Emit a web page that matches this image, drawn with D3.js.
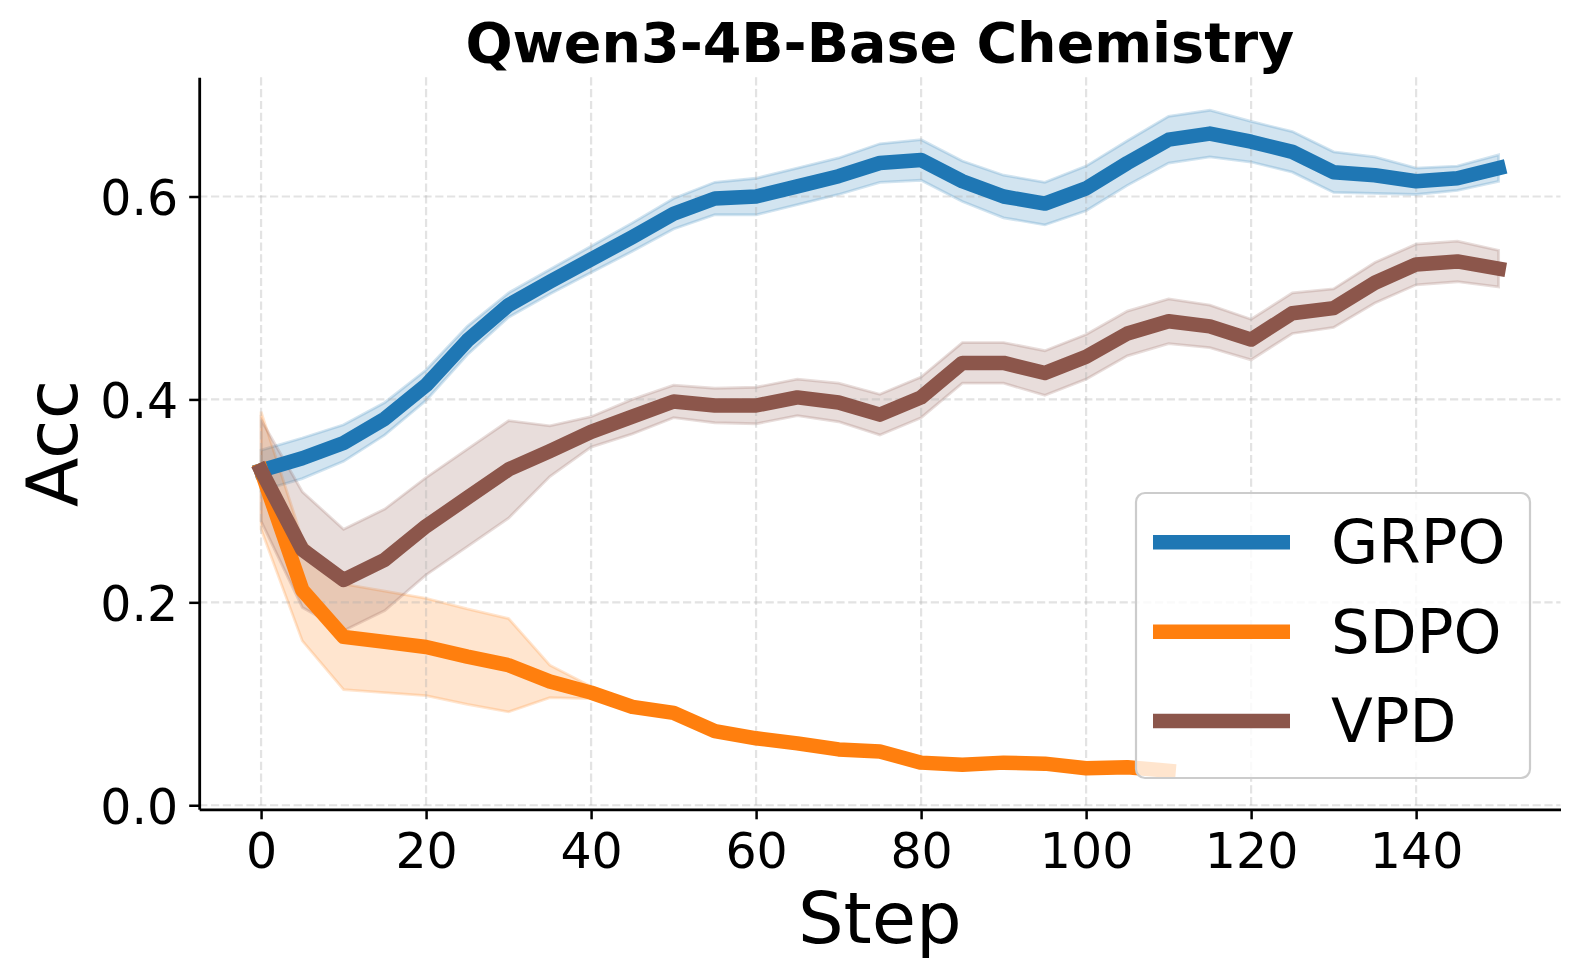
<!DOCTYPE html>
<html>
<head>
<meta charset="utf-8">
<script src="https://cdn.jsdelivr.net/npm/d3@7"></script>
<style>
  html, body { margin: 0; padding: 0; background: #fff; }
  svg { display: block; font-family: "DejaVu Sans", sans-serif; }
</style>
</head>
<body>
<div id="chart"></div>
<script>
// --- data ---
const steps = d3.range(0, 151, 5);
const sdpoSteps = d3.range(0, 111, 5);

const grpoMean = [0.330, 0.342, 0.357, 0.381, 0.414, 0.458, 0.493, 0.516, 0.538, 0.560,
    0.583, 0.598, 0.600, 0.610, 0.620, 0.633, 0.636, 0.615, 0.600, 0.593,
    0.608, 0.633, 0.656, 0.662, 0.654, 0.644, 0.624, 0.621, 0.615, 0.618, 0.628];
const grpoStd = [0.020, 0.020, 0.018, 0.016, 0.015, 0.014, 0.012, 0.012, 0.013, 0.014,
    0.015, 0.016, 0.018, 0.018, 0.018, 0.019, 0.020, 0.020, 0.021, 0.021,
    0.022, 0.022, 0.023, 0.023, 0.020, 0.020, 0.020, 0.018, 0.013, 0.012, 0.013];

const sdpoMean = [0.330, 0.212, 0.166, 0.161, 0.156, 0.1465, 0.138, 0.122, 0.111, 0.097,
    0.091, 0.073, 0.066, 0.061, 0.055, 0.053, 0.042, 0.040, 0.042, 0.041,
    0.0365, 0.0375, 0.034];
const sdpoStd = [0.058, 0.050, 0.052, 0.050, 0.048, 0.047, 0.046, 0.016, 0.006, 0.004,
    0.003, 0.003, 0.003, 0.003, 0.003, 0.003, 0.003, 0.003, 0.003, 0.003,
    0.003, 0.003, 0.003];

const vpdMean = [0.330, 0.252, 0.222, 0.242, 0.275, 0.303, 0.331, 0.349, 0.368, 0.383,
    0.398, 0.394, 0.394, 0.402, 0.397, 0.385, 0.402, 0.436, 0.436, 0.426,
    0.442, 0.465, 0.477, 0.472, 0.459, 0.485, 0.490, 0.515, 0.533, 0.536, 0.529];
const vpdStd = [0.050, 0.057, 0.050, 0.050, 0.048, 0.048, 0.048, 0.025, 0.015, 0.017,
    0.016, 0.017, 0.018, 0.018, 0.019, 0.020, 0.020, 0.020, 0.020, 0.022,
    0.022, 0.022, 0.022, 0.021, 0.020, 0.020, 0.019, 0.020, 0.020, 0.020, 0.018];

const seriesNames = ["GRPO", "SDPO", "VPD"];
const seriesColors = ["#1f77b4", "#ff7f0e", "#8c564b"];

const xTicks = [0, 20, 40, 60, 80, 100, 120, 140];
const yTicks = [0.0, 0.2, 0.4, 0.6];

const title = "Qwen3-4B-Base Chemistry";
const xLabel = "Step";
const yLabel = "Acc";

// --- layout ---
const W = 1580, H = 978;
const margin = { top: 77.3, right: 19.5, bottom: 168.7, left: 199.2 };
const width = W - margin.left - margin.right;
const height = H - margin.top - margin.bottom;

const svg = d3.select("#chart").append("svg")
    .attr("width", W).attr("height", H)
    .attr("viewBox", `0 0 ${W} ${H}`);

const g = svg.append("g").attr("transform", `translate(${margin.left},${margin.top})`);

const x = d3.scaleLinear().domain([-7.5, 157.5]).range([0, width]);
const y = d3.scaleLinear().domain([-0.004, 0.7175]).range([height, 0]);

const series = [
    { name: seriesNames[0], color: seriesColors[0], steps: steps, mean: grpoMean, std: grpoStd },
    { name: seriesNames[1], color: seriesColors[1], steps: sdpoSteps, mean: sdpoMean, std: sdpoStd },
    { name: seriesNames[2], color: seriesColors[2], steps: steps, mean: vpdMean, std: vpdStd }
].map(s => ({ ...s, points: s.steps.map((st, i) => ({ step: st, m: s.mean[i], sd: s.std[i] })) }));

// --- bands (under grid and lines) ---
const area = d3.area()
    .x(d => x(d.step))
    .y0(d => y(d.m - d.sd))
    .y1(d => y(d.m + d.sd));

g.append("g").selectAll("path")
    .data(series)
    .join("path")
    .attr("d", d => area(d.points))
    .attr("fill", d => d.color)
    .attr("fill-opacity", 0.2)
    .attr("stroke", d => d.color)
    .attr("stroke-opacity", 0.2)
    .attr("stroke-width", 2.8);

// --- grid ---
const grid = g.append("g")
    .attr("stroke", "#b0b0b0")
    .attr("stroke-opacity", 0.35)
    .attr("stroke-width", 2.2)
    .attr("stroke-dasharray", "8.2,3.6");

grid.selectAll(".gx").data(xTicks).join("line")
    .attr("x1", d => x(d)).attr("x2", d => x(d))
    .attr("y1", 0).attr("y2", height);
grid.selectAll(".gy").data(yTicks).join("line")
    .attr("x1", 0).attr("x2", width)
    .attr("y1", d => y(d)).attr("y2", d => y(d));

// --- mean lines ---
const line = d3.line()
    .x(d => x(d.step))
    .y(d => y(d.m));

g.append("g").selectAll("path")
    .data(series)
    .join("path")
    .attr("d", d => line(d.points))
    .attr("fill", "none")
    .attr("stroke", d => d.color)
    .attr("stroke-width", 14.5)
    .attr("stroke-linejoin", "round")
    .attr("stroke-linecap", "square");

// --- axes ---
const xAxis = g.append("g")
    .attr("transform", `translate(0,${height})`)
    .call(d3.axisBottom(x).tickValues(xTicks).tickSize(10).tickPadding(14).tickSizeOuter(0));
const yAxis = g.append("g")
    .call(d3.axisLeft(y).tickValues(yTicks).tickFormat(d3.format(".1f")).tickSize(10).tickPadding(11).tickSizeOuter(0));

[xAxis, yAxis].forEach(a => {
    a.select(".domain").attr("stroke", "#000").attr("stroke-width", 2.8);
    a.selectAll(".tick line").attr("stroke", "#000").attr("stroke-width", 2.5);
    a.selectAll(".tick text")
        .attr("fill", "#000")
        .style("font-family", "DejaVu Sans")
        .style("font-size", "49px");
});
yAxis.selectAll(".tick text").attr("dy", "0.37em");

// --- labels ---
svg.append("text")
    .attr("x", margin.left + width / 2)
    .attr("y", 62)
    .attr("text-anchor", "middle")
    .style("font-size", "55.5px")
    .style("font-weight", "bold")
    .text(title);

svg.append("text")
    .attr("x", margin.left + width / 2)
    .attr("y", 943)
    .attr("text-anchor", "middle")
    .style("font-size", "72px")
    .text(xLabel);

svg.append("text")
    .attr("transform", `translate(77,${margin.top + height / 2}) rotate(-90)`)
    .attr("text-anchor", "middle")
    .style("font-size", "72px")
    .text(yLabel);

// --- legend ---
const legend = svg.append("g").attr("transform", "translate(1136,493)");
legend.append("rect")
    .attr("width", 394).attr("height", 285)
    .attr("rx", 9).attr("ry", 9)
    .attr("fill", "#fff").attr("fill-opacity", 0.8)
    .attr("stroke", "#cccccc").attr("stroke-width", 2.2);

const items = legend.selectAll(".item")
    .data(series)
    .join("g")
    .attr("transform", (d, i) => `translate(0,${49.3 + i * 89.4})`);
items.append("line")
    .attr("x1", 17).attr("x2", 154)
    .attr("stroke", d => d.color)
    .attr("stroke-width", 14.5);
items.append("text")
    .attr("x", 195)
    .attr("y", 21)
    .style("font-size", "61px")
    .text(d => d.name);
</script>
</body>
</html>
